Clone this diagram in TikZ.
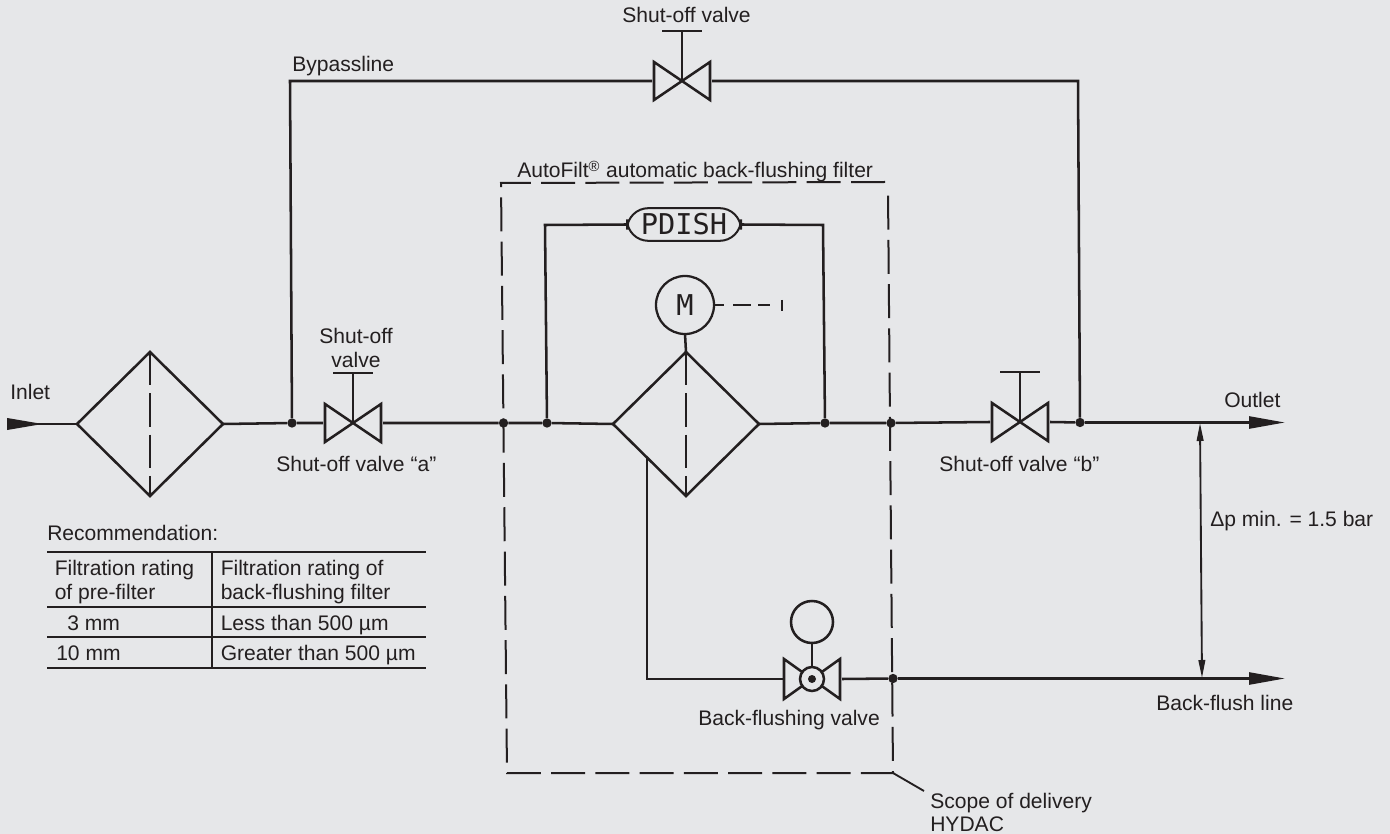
\documentclass[tikz,border=0pt]{standalone}
\usepackage{fontspec}
\setmainfont{Liberation Sans}
\newfontfamily\stencilfont{DejaVu Sans Mono}
\usetikzlibrary{shapes.geometric,arrows.meta}
\definecolor{bgc}{HTML}{E6E7E9}
\definecolor{ink}{HTML}{231F20}
\tikzset{
  pipe/.style={line width=1.9pt,draw=ink,line join=miter},
  thinpipe/.style={line width=1.4pt,draw=ink},
  dashline/.style={line width=1.5pt,draw=ink,dash pattern=on 25.5pt off 7.7pt},
  filter/.style={shape=diamond,draw=ink,line width=1.9pt,aspect=1,inner sep=0pt,outer sep=0pt,minimum width=109.5pt,minimum height=108pt},
  junction/.style={circle,fill=ink,inner sep=0pt,minimum size=7pt},
  lbl/.style={text=ink,inner sep=0pt,anchor=base west,font=\fontsize{15.8}{19}\selectfont},
  lblc/.style={lbl,anchor=base},
  bigtip/.style={-{Triangle[length=27pt,width=9pt,fill=ink]}},
  shutoff/.pic={
    \draw[pipe] (-28,-19) -- (28,19) -- (28,-19) -- (-28,19) -- cycle;
    \draw[pipe] (0,0) -- (0,-50);
    \draw[pipe] (-20,-50) -- (20,-50);
    \coordinate (-l) at (-30,0);
    \coordinate (-r) at (30,0);
  },
  flushvalve/.pic={
    \draw[pipe] (-28,-20) -- (28,20) -- (28,-20) -- (-28,20) -- cycle;
    \draw[pipe,fill=bgc] (0,0) circle[radius=12];
    \fill[ink] (0,0) circle[radius=4];
    \draw[pipe] (0,-12) -- (0,-36);
    \draw[pipe] (0,-57) circle[radius=21];
    \coordinate (-l) at (-29,0);
    \coordinate (-r) at (30,0);
  }
}
\begin{document}
\begin{tikzpicture}[x=0.75pt,y=-0.75pt]
\useasboundingbox[fill=bgc] (0,0) rectangle (1390,834);

% filters
\node[filter] (f1) at (150,424) {};
\node[filter] (f2) at (686,424) {};
\draw[dashline,dash pattern=on 25pt off 6pt] (f1.north) -- (f1.south);
\draw[dashline,dash pattern=on 25pt off 6pt] (f2.north) -- (f2.south);

% valves
\pic (va) at (353,423) {shutoff};
\pic (vb) at (1020,422) {shutoff};
\pic (vt) at (682,81) {shutoff};
\pic (vf) at (812,679) {flushvalve};

% instruments
\node[draw=ink,line width=1.5pt,rounded corners=16pt,minimum width=85.5pt,minimum height=24.5pt,inner sep=0pt,outer sep=0pt,text=ink,font=\stencilfont\fontsize{21.5}{22}\selectfont] (pdish) at (684,224.5) {PDISH};
\node[circle,draw=ink,line width=1.7pt,minimum size=43.5pt,inner sep=0pt,outer sep=0pt,text=ink,font=\stencilfont\fontsize{21.5}{22}\selectfont] (motor) at (685,305) {M};

% junction points
\node[junction] (j1) at (292,423) {};
\node[junction] (j2) at (503.5,423) {};
\node[junction] (j3) at (547,423) {};
\node[junction] (j4) at (825,423) {};
\node[junction] (j5) at (891,423) {};
\node[junction] (j6) at (1080,422.5) {};
\node[junction] (j7) at (893,678.5) {};

% free ends
\coordinate (inlet) at (7,424);
\coordinate (outlet) at (1285,422.5);
\coordinate (backflush) at (1285,678.5);
\coordinate (byL) at (290,81);
\coordinate (byR) at (1078,81);
\coordinate (pL) at (545,225);
\coordinate (pR) at (823,225);
\coordinate (fdrain) at (647,457);
\coordinate (fdrainB) at (647,679);
\coordinate (dT) at (1200,423);
\coordinate (dB) at (1202,678);
\coordinate (mdash) at (782,305);
\coordinate (mt1) at (782,300);
\coordinate (mt2) at (782,311);
\coordinate (bTR) at (885,182);
\coordinate (bTL) at (501,183);
\coordinate (bBL) at (507,773);
\coordinate (bBR) at (893,773);
\coordinate (bRT) at (888,190);
\coordinate (lead) at (924,791);

% main pipes
\draw[pipe,{Triangle[reversed,length=27pt,width=8.5pt,fill=ink]}-] (inlet) -- (f1.west);
\draw[pipe] (f1.east) -- (j1) -- (va-l);
\draw[pipe] (va-r) -- (j2) -- (j3) -- (f2.west);
\draw[pipe] (f2.east) -- (j4) -- (j5) -- (vb-l);
\draw[pipe,bigtip] (vb-r) -- (j6) -- (outlet);
\draw[pipe] (j1) -- (byL) -- (vt-l);
\draw[pipe] (vt-r) -- (byR) -- (j6);
\draw[pipe] (j3) -- (pL) -- (pdish.west);
\draw[pipe] (pdish.east) -- (pR) -- (j4);
\draw[pipe] (motor.south) -- (f2.north);
\draw[pipe] (fdrain) -- (fdrainB) -- (vf-l);
\draw[pipe] (vf-r) -- (j7);
\draw[pipe,bigtip] (j7) -- (backflush);

% motor control line
\draw[thinpipe,dash pattern=on 7.5pt off 6.75pt on 13.5pt off 5.25pt on 9pt off 9pt] (motor.east) -- (mdash);
\draw[thinpipe] (mt1) -- (mt2);

% dimension
\draw[thinpipe,{Triangle[length=13.5pt,width=5pt,fill=ink]}-{Triangle[length=13.5pt,width=5pt,fill=ink]}] (dT) -- (dB);

% scope of delivery
\draw[dashline] (bTR) -- (bTL) -- (bBL) -- (bBR) -- (bRT);
\draw[thinpipe] (bBR) -- (lead);

% labels
\node[lblc] (t1) at (686.5,23) {Shut-off valve};
\node[lbl] (t2) at (292,72) {Bypassline};
\node[lbl] (t3) at (517,178) {AutoFilt\textsuperscript{®} automatic back-flushing filter};
\node[lblc] (t4) at (356,344) {Shut-off};
\node[lblc] (t5) at (356,368) {valve};
\node[lbl] (t6) at (276,471) {Shut-off valve “a”};
\node[lbl] (t7) at (939,471) {Shut-off valve “b”};
\node[lbl] (t8) at (10,400) {Inlet};
\node[lbl] (t9) at (1224,408) {Outlet};
\node[lbl] (t10) at (1210,526) {Δp min. = 1.5 bar};
\node[lbl] (t11) at (1156,710) {Back-flush line};
\node[lbl] (t12) at (698,725) {Back-flushing valve};
\node[lbl] (t13) at (930,808) {Scope of delivery};
\node[lbl] (t14) at (930,831) {HYDAC};

% table
\node[lbl] (r0) at (47,540) {Recommendation:};
\node[lbl] (c11) at (54.5,575) {Filtration rating};
\node[lbl] (c12) at (54.5,599) {of pre-filter};
\node[lbl] (c21) at (220.5,575) {Filtration rating of};
\node[lbl] (c22) at (220.5,599) {back-flushing filter};
\node[lbl] (r1a) at (67,630) {3 mm};
\node[lbl] (r1b) at (220.5,630) {Less than 500 µm};
\node[lbl] (r2a) at (56,660) {10 mm};
\node[lbl] (r2b) at (220.5,660) {Greater than 500 µm};
\coordinate (tl1) at (47,552); \coordinate (tr1) at (426,552);
\coordinate (tl2) at (47,607); \coordinate (tr2) at (426,607);
\coordinate (tl3) at (47,637); \coordinate (tr3) at (426,637);
\coordinate (tl4) at (47,668); \coordinate (tr4) at (426,668);
\coordinate (tvT) at (212,552); \coordinate (tvB) at (212,668);
\draw[pipe] (tl1) -- (tr1);
\draw[pipe] (tl2) -- (tr2);
\draw[thinpipe,line width=1.1pt] (tl3) -- (tr3);
\draw[pipe] (tl4) -- (tr4);
\draw[pipe] (tvT) -- (tvB);
\end{tikzpicture}
\end{document}
